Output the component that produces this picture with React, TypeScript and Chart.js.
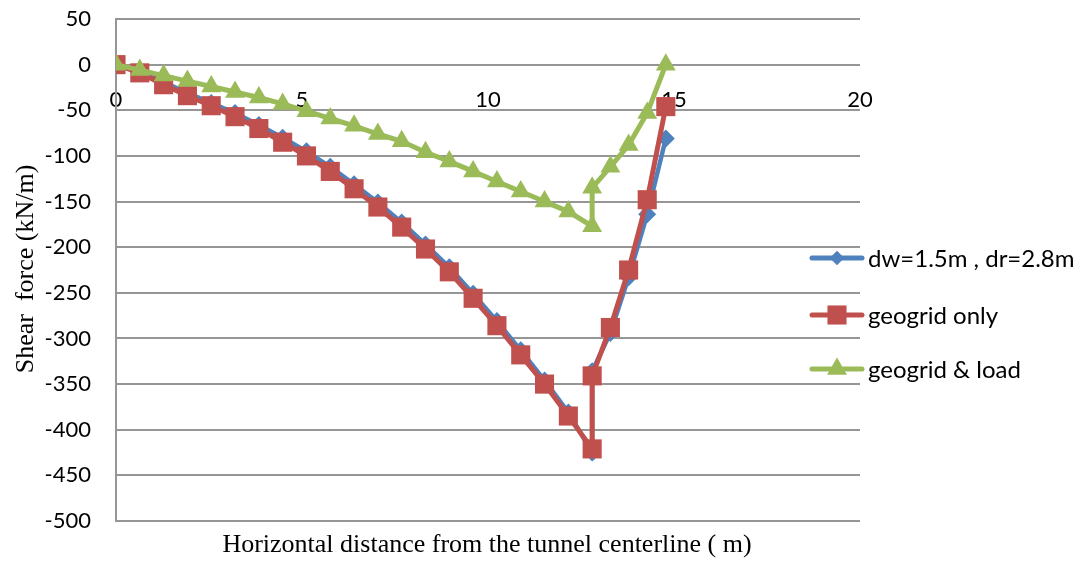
import React, { useEffect, useRef } from 'react';
import { Chart, registerables } from 'chart.js';

Chart.register(...registerables);

// Horizontal distance from the tunnel centerline (m)
const xDistance = [0, 0.64, 1.28, 1.92, 2.56, 3.2, 3.84, 4.48, 5.12, 5.76, 6.4, 7.04, 7.68, 8.32, 8.96, 9.6, 10.24, 10.88, 11.52, 12.16, 12.8, 12.8, 13.29, 13.78, 14.28, 14.78];
// Shear force (kN/m)
const shearDwDr = [0, -7, -19, -31, -42, -53, -66, -80, -95, -112, -131, -151, -173, -197, -222, -251, -281, -313, -346, -381, -425, -336, -294, -233, -164, -81];
const shearGeogridOnly = [0, -9, -22, -34, -45, -57, -70, -85, -100, -117, -136, -156, -178, -202, -227, -256, -286, -318, -350, -385, -421, -341, -288, -225, -148, -46];
const shearGeogridLoad = [0, -6, -12, -18, -24, -30, -36, -43, -51, -59, -67, -76, -84, -96, -106, -117, -128, -139, -150, -161, -177, -135, -112, -88, -53, 0];

const seriesLabels = ['dw=1.5m , dr=2.8m', 'geogrid only', 'geogrid & load'];
const seriesColors = ['#4F81BD', '#C0504D', '#9BBB59'];
const seriesMarkers = ['rectRot', 'rect', 'triangle'];
const markerRadius = [9, 13.5, 11.5];

const xTitle = 'Horizontal distance from the tunnel centerline ( m)';
const yTitle = 'Shear  force (kN/m)';
const xMin = 0, xMax = 20, xStep = 5;
const yMin = -500, yMax = 50, yStep = 50;

const GRID = '#969696';

function drawMarker(ctx: CanvasRenderingContext2D, style: string, x: number, y: number, r: number) {
  ctx.beginPath();
  if (style === 'rect') {
    const s = Math.SQRT1_2 * r;
    ctx.rect(x - s, y - s, 2 * s, 2 * s);
  } else if (style === 'rectRot') {
    ctx.moveTo(x, y - r);
    ctx.lineTo(x + r, y);
    ctx.lineTo(x, y + r);
    ctx.lineTo(x - r, y);
    ctx.closePath();
  } else {
    const a = Math.PI / 6;
    ctx.moveTo(x, y - r);
    ctx.lineTo(x + Math.cos(a) * r, y + Math.sin(a) * r);
    ctx.lineTo(x - Math.cos(a) * r, y + Math.sin(a) * r);
    ctx.closePath();
  }
  ctx.fill();
}

const decorPlugin = {
  id: 'decor',
  afterDraw(chart: any) {
    const ctx: CanvasRenderingContext2D = chart.ctx;
    const area = chart.chartArea;
    ctx.save();
    ctx.fillStyle = '#000';
    ctx.font = '26px "Liberation Serif", "Times New Roman", serif';
    ctx.textAlign = 'center';
    ctx.textBaseline = 'alphabetic';
    ctx.fillText(xTitle, (area.left + area.right) / 2 - 1, 552);
    ctx.save();
    ctx.translate(33, 269);
    ctx.rotate(-Math.PI / 2);
    ctx.fillText(yTitle, 0, 0);
    ctx.restore();

    // legend
    const legendY = [258, 315, 369];
    ctx.font = '24px Lato, "Open Sans", sans-serif';
    ctx.textAlign = 'left';
    ctx.textBaseline = 'middle';
    for (let i = 0; i < seriesLabels.length; i++) {
      const y = legendY[i];
      ctx.strokeStyle = seriesColors[i];
      ctx.fillStyle = seriesColors[i];
      ctx.lineWidth = 5;
      ctx.lineCap = 'round';
      ctx.beginPath();
      ctx.moveTo(812, y);
      ctx.lineTo(862, y);
      ctx.stroke();
      drawMarker(ctx, seriesMarkers[i], 837, y, markerRadius[i] * (i === 0 ? 0.8 : 1));
      ctx.fillStyle = '#000';
      ctx.fillText(seriesLabels[i], 868, y + 1);
    }
    ctx.restore();
  },
};

export default function App() {
  const ref = useRef<HTMLCanvasElement>(null);
  useEffect(() => {
    if (!ref.current) return;
    const makeData = (ys: number[]) => xDistance.map((x, i) => ({ x, y: ys[i] }));
    const allSeries = [shearDwDr, shearGeogridOnly, shearGeogridLoad];
    const chart = new Chart(ref.current, {
      type: 'scatter',
      data: {
        datasets: allSeries.map((ys, i) => ({
          label: seriesLabels[i],
          data: makeData(ys),
          showLine: true,
          borderColor: seriesColors[i],
          backgroundColor: seriesColors[i],
          borderWidth: i === 0 ? 4.5 : 5,
          pointStyle: seriesMarkers[i] as any,
          pointRadius: markerRadius[i],
          pointBorderWidth: 0,
          pointHoverRadius: markerRadius[i],
          order: 3 - i,
          tension: 0,
        })),
      },
      options: {
        responsive: false,
        animation: false,
        events: [],
        layout: { autoPadding: false, padding: { left: 0, right: 225, top: 19, bottom: 40 } },
        plugins: {
          legend: { display: false },
          tooltip: { enabled: false },
        },
        scales: {
          x: {
            type: 'linear',
            position: { y: 0 } as any,
            min: xMin,
            max: xMax,
            afterFit: (s: any) => { s.paddingLeft = 0; s.paddingRight = 0; },
            ticks: {
              stepSize: xStep,
              color: '#000',
              font: { family: 'Lato, "Open Sans", sans-serif', size: 22 },
              padding: 22,
              maxRotation: 0,
            },
            grid: { display: false, drawTicks: false },
            border: { display: false },
          },
          y: {
            type: 'linear',
            min: yMin,
            max: yMax,
            afterFit: (s: any) => { s.width = 116; s.paddingTop = 0; s.paddingBottom = 0; },
            ticks: {
              stepSize: yStep,
              color: '#000',
              font: { family: 'Lato, "Open Sans", sans-serif', size: 22 },
              padding: 25,
            },
            grid: { color: GRID, lineWidth: 2, drawTicks: false },
            border: { display: true, color: GRID, width: 2 },
          },
        },
      },
      plugins: [decorPlugin],
    });
    return () => chart.destroy();
  }, []);
  return (
    <div style={{ position: 'absolute', left: 0, top: 0, width: 1085, height: 561, background: '#fff' }}>
      <canvas ref={ref} width={1085} height={561} style={{ display: 'block' }} />
    </div>
  );
}
